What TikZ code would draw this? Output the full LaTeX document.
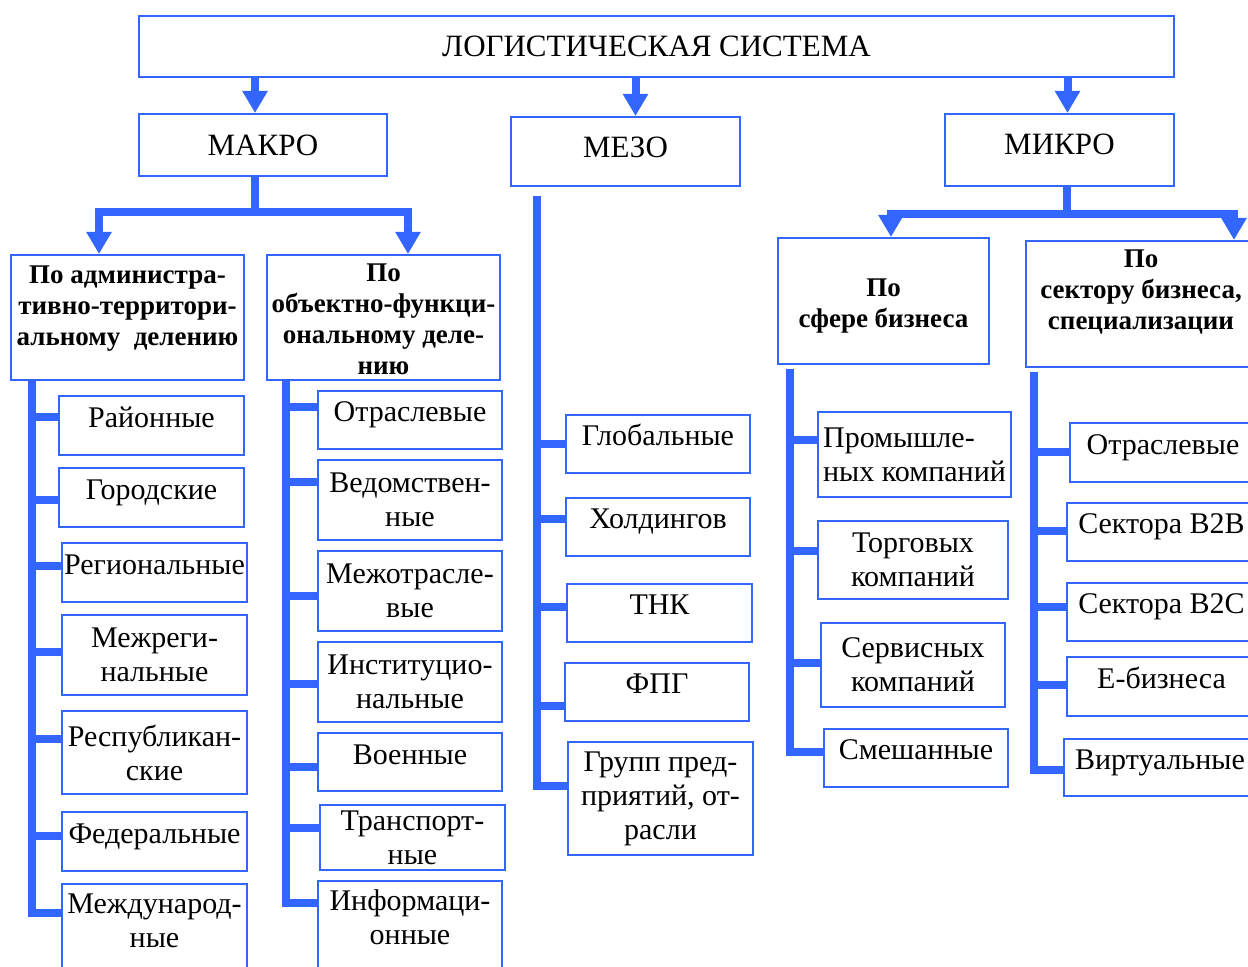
\documentclass[tikz,border=0pt]{standalone}
\usepackage{fontspec}
\setmainfont{Liberation Serif}
\usetikzlibrary{calc,arrows.meta}
\definecolor{treeblue}{RGB}{51,102,255}

\begin{document}
\begin{tikzpicture}[
    x=0.5pt,y=-0.5pt,
    module box/.style={draw=treeblue,line width=1pt,inner sep=1pt,align=center,font=\fontsize{15}{17}\selectfont},
    level box/.style={module box,font=\fontsize{15.5}{18}\selectfont},
    group box/.style={module box,font=\bfseries\fontsize{13.5}{15.5}\selectfont},
    leaf box/.style={module box,minimum width=92.5pt,minimum height=29.5pt},
    one line/.style={text height=10.5pt,text depth=8.5pt},
    dependency/.style={-{Triangle[width=12pt,length=11pt]},line width=4pt,treeblue},
    branch/.style={line width=4pt,treeblue},
  ]
  \useasboundingbox (0,0) rectangle (1248,967);

  % top levels
  \node[level box,minimum width=517.5pt,minimum height=30.5pt] (logsys) at (656.5,46.5) {ЛОГИСТИЧЕСКАЯ СИСТЕМА};
  \node[level box,minimum width=124pt,minimum height=31pt] (makro) at (263,145) {МАКРО};
  \node[level box,minimum width=114.5pt,minimum height=34.5pt,text height=10.5pt,text depth=4pt] (mezo) at (625.5,151.5) {МЕЗО};
  \node[level box,minimum width=114.5pt,minimum height=36pt,text height=10.5pt,text depth=5.5pt] (mikro) at (1059.5,150) {МИКРО};

  \draw[dependency] ([xshift=-4pt]makro.north |- logsys.south) -- ([xshift=-4pt]makro.north);
  \draw[dependency] ([xshift=5pt]mezo.north |- logsys.south) -- ([xshift=5pt]mezo.north);
  \draw[dependency] ([xshift=4pt]mikro.north |- logsys.south) -- ([xshift=4pt]mikro.north);

  % groups
  \node[group box,minimum width=116.5pt,minimum height=62.5pt,text height=31.5pt,text depth=3pt] (admin) at (127.5,317.5) {По администра-\\тивно-территори-\\альному~ делению};
  \node[group box,minimum width=116.5pt,minimum height=62.5pt,text height=58.5pt,text depth=1pt] (objfunc) at (383.5,317.5) {По\\объектно-функци-\\ональному деле-\\нию};
  \node[group box,minimum width=105.5pt,minimum height=63pt,text height=30pt,text depth=3pt] (sphere) at (883.5,301) {По\\сфере бизнеса};
  \node[group box,minimum width=115pt,minimum height=63pt,text height=29pt,text depth=3pt] (sector) at (1141,304) {По\\сектору бизнеса,\\специализации};

  \draw[dependency] ([xshift=-4pt]makro.south) -- ++(0,35) -| ([xshift=-14.25pt]admin.north);
  \draw[dependency] ([xshift=-4pt]makro.south) -- ++(0,35) -| ([xshift=12.25pt]objfunc.north);
  \draw[dependency] ([xshift=3.75pt]mikro.south) -- ++(0,27) -| ([xshift=3.75pt]sphere.north);
  \draw[dependency] ([xshift=3.75pt]mikro.south) -- ++(0,27) -| ([xshift=46.5pt]sector.north);

  % administrative
  \node[leaf box,one line] (rayon) at (151.5,425.5) {Районные};
  \node[leaf box,one line] (gorod) at (151.5,497.5) {Городские};
  \node[leaf box,one line] (region) at (154.5,572.5) {Региональные};
  \node[leaf box,minimum height=40pt] (mezhreg) at (154.5,655) {Межреги-\\нальные};
  \node[leaf box,minimum height=41.5pt] (respub) at (154.5,752.5) {Республикан-\\ские};
  \node[leaf box,one line] (feder) at (154.5,841.5) {Федеральные};
  \node[leaf box,minimum height=48pt,text height=15.5pt,text depth=0.5pt] (mezhdun) at (154.5,932) {Международ-\\ные};

  \foreach \c/\dy in {rayon/4.25,gorod/-1.25,region/3,mezhreg/1.5,respub/6.75,feder/3,mezhdun/9.5} {
    \draw[branch] ([xshift=11pt]admin.south west) |- ([yshift=\dy pt]\c.west);
  }

  % object-functional
  \node[leaf box,one line,minimum width=92pt,minimum height=29pt] (otrasl) at (410,420) {Отраслевые};
  \node[leaf box,minimum width=92pt,minimum height=40pt] (vedom) at (410,500) {Ведомствен-\\ные};
  \node[leaf box,minimum width=92pt,minimum height=40pt] (mezhotr) at (410,591) {Межотрасле-\\вые};
  \node[leaf box,minimum width=92pt,minimum height=40pt] (instit) at (410,682) {Институцио-\\нальные};
  \node[leaf box,one line,minimum width=92pt,minimum height=29pt] (voen) at (410,762) {Военные};
  \node[leaf box,minimum height=32.5pt] (transp) at (412.5,837.5) {Транспорт-\\ные};
  \node[leaf box,minimum width=92pt,minimum height=49.5pt,text height=14pt,text depth=0.5pt] (inform) at (410,930.5) {Информаци-\\онные};

  \foreach \c/\dy in {otrasl/6.5,vedom/9,mezhotr/-2.5,instit/-1,voen/-2.5,transp/4.75,inform/13.75} {
    \draw[branch] ([xshift=10pt]objfunc.south west) |- ([yshift=\dy pt]\c.west);
  }

  % meso
  \node[leaf box,one line,minimum width=92pt,minimum height=29pt] (glob) at (658,444) {Глобальные};
  \node[leaf box,one line,minimum width=92pt,minimum height=29pt] (hold) at (658,527) {Холдингов};
  \node[leaf box,one line,minimum height=29pt] (tnk) at (659.5,613) {ТНК};
  \node[leaf box,one line,minimum width=92pt,minimum height=29pt] (fpg) at (657,692) {ФПГ};
  \node[leaf box,minimum height=56.5pt] (grupp) at (660.5,798.5) {Групп пред-\\приятий, от-\\расли};

  \foreach \c/\dy in {glob/0,hold/4,tnk/3,fpg/-7,grupp/6.25} {
    \draw[branch] ([xshift=13.5pt,yshift=-4.5pt]mezo.south west) |- ([yshift=\dy pt]\c.west);
  }

  % sphere of business
  \node[leaf box,align=left,minimum width=96.5pt,minimum height=42.5pt] (prom) at (914.5,455) {Промышле-\\ных компаний};
  \node[leaf box,minimum width=95pt,minimum height=39pt] (torg) at (913,560) {Торговых\\компаний};
  \node[leaf box,minimum width=92pt,minimum height=42pt] (serv) at (913,665) {Сервисных\\компаний};
  \node[leaf box,one line,minimum width=92pt,minimum height=29pt] (smesh) at (916,758) {Смешанные};

  \foreach \c/\dy in {prom/7.5,torg/4.5,serv/1,smesh/3} {
    \draw[branch] ([xshift=6.5pt,yshift=-2pt]sphere.south west) |- ([yshift=\dy pt]\c.west);
  }

  % business sector
  \node[leaf box,one line,minimum width=93pt] (otrasl2) at (1163,452.5) {Отраслевые};
  \node[leaf box,one line,minimum width=94.5pt,minimum height=29pt] (btob) at (1161.5,532) {Сектора B2B};
  \node[leaf box,one line,minimum width=94.5pt,minimum height=29pt] (btoc) at (1161.5,612) {Сектора B2C};
  \node[leaf box,one line,minimum width=94.5pt] (ebiz) at (1161.5,686.5) {Е-бизнеса};
  \node[leaf box,one line,minimum width=96pt,minimum height=28.5pt] (virt) at (1160,767.5) {Виртуальные};

  \foreach \c/\dy in {otrasl2/0,btob/0.5,btoc/2.5,ebiz/0.75,virt/-1.25} {
    \draw[branch] ([xshift=4.5pt,yshift=-2pt]sector.south west) |- ([yshift=\dy pt]\c.west);
  }

\end{tikzpicture}
\end{document}
